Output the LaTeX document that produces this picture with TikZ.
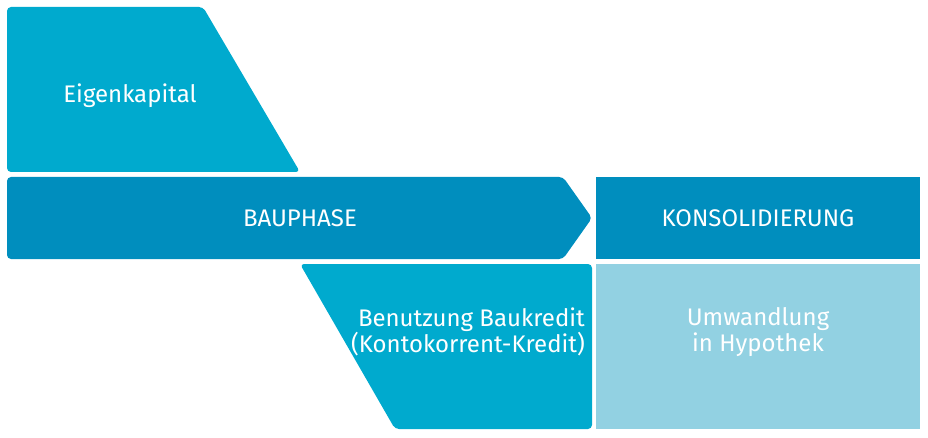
\documentclass[tikz,border=0pt]{standalone}
\usepackage{fontspec}
\setmainfont{Fira Sans}
\definecolor{capcol}{RGB}{0,170,206}
\definecolor{phasecol}{RGB}{0,142,190}
\definecolor{hypcol}{RGB}{146,209,226}
\tikzset{label/.style={text=white,font=\fontsize{24}{26}\selectfont,inner sep=0pt,align=center}}

\begin{document}
\begin{tikzpicture}[x=1pt,y=-1pt]
  \useasboundingbox (0,0) rectangle (928,438);

  % Eigenkapital
  \fill[capcol,rounded corners=4] (7,7) -- (203,7) -- (300,172) -- (7,172) -- cycle;
  \node[label] (cap) at (130,96) {Eigenkapital};

  % Bauphase arrow
  \fill[phasecol,rounded corners=4] (7,177) -- (563,177) -- (592,218) -- (563,259) -- (7,259) -- cycle;
  \node[label] (bau) at (300,218) {BAUPHASE};

  % Konsolidierung
  \fill[phasecol] (596,177) rectangle (920,259);
  \node[label] (kons) at (758,218) {KONSOLIDIERUNG};

  % Baukredit
  \fill[capcol,rounded corners=4] (300,264) -- (592,264) -- (592,429) -- (395,429) -- cycle;
  \node[label,align=right,anchor=east] (kredit) at (585,332) {Benutzung Baukredit\\(Kontokorrent-Kredit)};

  % Hypothek
  \fill[hypcol] (596,264) rectangle (920,429);
  \node[label] (hyp) at (758,332) {Umwandlung\\in Hypothek};
\end{tikzpicture}
\end{document}
